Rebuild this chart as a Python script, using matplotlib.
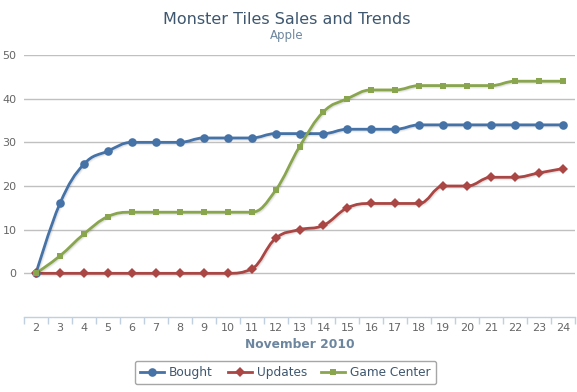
import numpy as np
import matplotlib.pyplot as plt
from matplotlib.path import Path
from matplotlib.patches import PathPatch
from matplotlib.lines import Line2D
import matplotlib.patheffects as pe

days = list(range(2, 25))
bought = [0, 16, 25, 28, 30, 30, 30, 31, 31, 31, 32, 32, 32, 33, 33, 33, 34, 34, 34, 34, 34, 34, 34]
updates = [0, 0, 0, 0, 0, 0, 0, 0, 0, 1, 8, 10, 11, 15, 16, 16, 16, 20, 20, 22, 22, 23, 24]
game_center = [0, 4, 9, 13, 14, 14, 14, 14, 14, 14, 19, 29, 37, 40, 42, 42, 43, 43, 43, 43, 44, 44, 44]

series_names = ['Bought', 'Updates', 'Game Center']
colors = ['#4572A7', '#AA4643', '#89A54E']
markers = ['o', 'D', 's']
marker_sizes = [6.2, 4.6, 4.8]


def spline_path(xs, ys, smoothing=1.5):
    """Highcharts-like spline: cubic bezier with smoothed control points"""
    n = len(xs)
    left = [None] * n
    right = [None] * n
    denom = smoothing + 1
    for i in range(n):
        if i == 0 or i == n - 1:
            left[i] = (xs[i], ys[i])
            right[i] = (xs[i], ys[i])
            continue
        lx, ly = xs[i - 1], ys[i - 1]
        nx, ny = xs[i + 1], ys[i + 1]
        px, py = xs[i], ys[i]
        lcx = (smoothing * px + lx) / denom
        lcy = (smoothing * py + ly) / denom
        rcx = (smoothing * px + nx) / denom
        rcy = (smoothing * py + ny) / denom
        corr = ((rcy - lcy) * (rcx - px)) / (rcx - lcx) + py - rcy
        lcy += corr
        rcy += corr
        # keep control points from overshooting
        if lcy > ly and lcy > py:
            lcy = max(ly, py)
            rcy = 2 * py - lcy
        elif lcy < ly and lcy < py:
            lcy = min(ly, py)
            rcy = 2 * py - lcy
        if rcy > ny and rcy > py:
            rcy = max(ny, py)
            lcy = 2 * py - rcy
        elif rcy < ny and rcy < py:
            rcy = min(ny, py)
            lcy = 2 * py - rcy
        left[i] = (lcx, lcy)
        right[i] = (rcx, rcy)
    verts = [(xs[0], ys[0])]
    codes = [Path.MOVETO]
    for i in range(1, n):
        verts += [right[i - 1], left[i], (xs[i], ys[i])]
        codes += [Path.CURVE4] * 3
    return Path(verts, codes)


W, H = 577, 392
fig = plt.figure(figsize=(W / 100, H / 100), dpi=100)
ax = fig.add_axes([24 / W, 1 - 317 / H, (575 - 24) / W, (317 - 55) / H])

for name, vals, c, m, ms in zip(series_names, [bought, updates, game_center], colors, markers, marker_sizes):
    patch = PathPatch(spline_path(days, vals), facecolor='none', edgecolor=c, lw=2,
                      transform=ax.transData, zorder=3, capstyle='round', joinstyle='round')
    patch.set_path_effects([pe.Stroke(offset=(0.8, -0.8), linewidth=3, foreground='black', alpha=0.05),
                            pe.Stroke(offset=(0.8, -0.8), linewidth=1.5, foreground='black', alpha=0.08),
                            pe.Normal()])
    ax.add_patch(patch)
    ax.plot(days, vals, linestyle='none', marker=m, markersize=ms, color=c,
            markeredgewidth=0, zorder=4)

ax.set_xlim(1.5, 24.5)
ax.set_ylim(-10, 50)

# gridlines
for yv in range(0, 51, 10):
    ax.axhline(yv, color='#C0C0C0', lw=1, zorder=1)
ax.set_yticks(range(0, 51, 10))
ax.set_yticklabels([str(v) for v in range(0, 51, 10)])
ax.tick_params(axis='y', length=0, pad=5.5, labelsize=8, labelcolor='#666666')

ax.set_xticks(days)
ax.set_xticklabels([str(d) for d in days])
ax.set_xticks(np.arange(1.5, 25, 1), minor=True)
ax.tick_params(axis='x', which='major', length=0, pad=4.5, labelsize=8, labelcolor='#666666')
ax.tick_params(axis='x', which='minor', length=5, width=1, color='#C0D0E0', direction='out')
ax.set_xlabel('November 2010', fontsize=8.8, fontweight='bold', color='#6D869F', labelpad=3.5)

for s in ['top', 'right', 'left']:
    ax.spines[s].set_visible(False)
ax.spines['bottom'].set_color('#C0D0E0')
ax.spines['bottom'].set_linewidth(1)

fig.text(0.497, 1 - 19 / H, 'Monster Tiles Sales and Trends', ha='center', va='center',
         fontsize=11.5, color='#3E576F')
fig.text(0.497, 1 - 35 / H, 'Apple', ha='center', va='center', fontsize=8.5, color='#6D869F')

handles = [Line2D([0], [0], color=c, lw=2, marker=m, markersize=ms, markeredgewidth=0)
           for c, m, ms in zip(colors, markers, marker_sizes)]
leg = fig.legend(handles, series_names, loc='center', bbox_to_anchor=(285.5 / W, 1 - 372.5 / H),
                 ncol=3, frameon=True, fancybox=True, fontsize=8.7, handlelength=2.0,
                 handletextpad=0.4, columnspacing=1.2, borderpad=0.45)
leg.get_frame().set_edgecolor('#909090')
leg.get_frame().set_linewidth(1)
for t in leg.get_texts():
    t.set_color('#3E576F')

fig.savefig('out.png', dpi=100)
